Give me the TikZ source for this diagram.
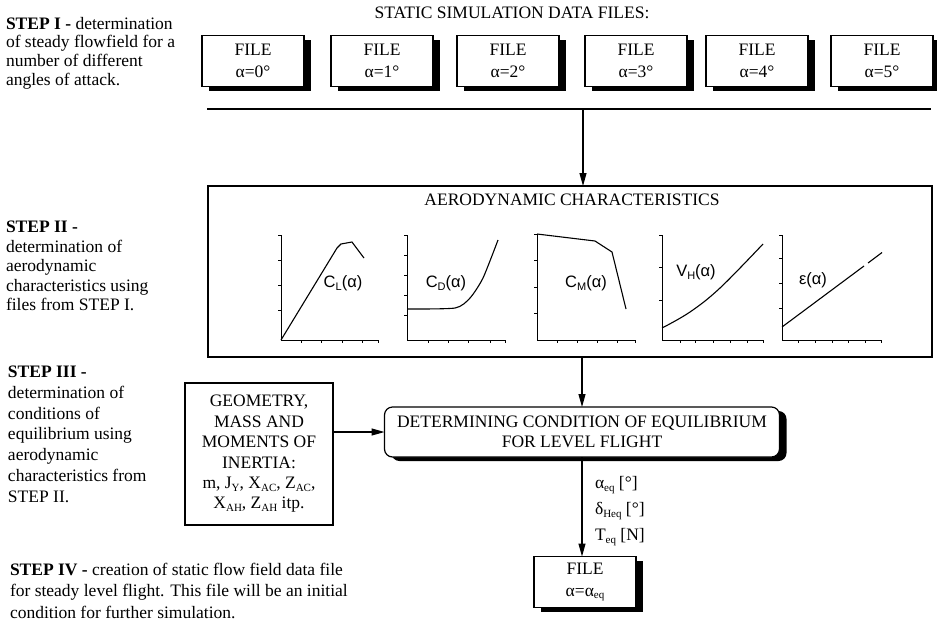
\documentclass[tikz,border=0pt]{standalone}
\usepackage{fontspec}
\setmainfont{Liberation Serif}
\newfontfamily\chartfont{Liberation Sans}
\usetikzlibrary{arrows.meta,shadows}
\newcommand\mysub[1]{\raisebox{-0.35ex}{\fontsize{11}{11}\selectfont #1}}
\begin{document}
\begin{tikzpicture}[x=1pt,y=-1pt,
  every node/.style={inner sep=0pt, outer sep=0pt},
  txt/.style={align=left, anchor=north west},
  shad/.style={drop shadow={shadow xshift=7pt, shadow yshift=-4pt, fill=black, opacity=1}},
  filebox/.style={draw, line width=1.2pt, fill=white, minimum width=102pt, minimum height=51pt,
     align=center, font=\fontsize{17.5}{22}\selectfont, shad},
  conn/.style={line width=1.1pt},
  arr/.style={conn, -{Triangle[length=13pt,width=7pt]}},
  axisline/.style={line width=0.9pt},
  curve/.style={line width=1.1pt},
  lbl/.style={font=\chartfont\fontsize{16.5}{17}\selectfont}
]
\path[use as bounding box] (0,0) rectangle (937,625);
\begin{scope}
\clip (0,0) rectangle (937,625);

% step texts
\node[txt, font=\fontsize{17.5}{18.8}\selectfont] (s1) at (6,17)
  {\textbf{STEP I -} determination\\of steady flowfield for a\\number of different\\angles of attack.};
\node[txt, font=\fontsize{17.5}{19.5}\selectfont] (s2) at (6,221)
  {\textbf{STEP II -}\\determination of\\aerodynamic\\characteristics using\\files from STEP I.};
\node[txt, font=\fontsize{17.5}{20.8}\selectfont] (s3) at (8,366)
  {\textbf{STEP III -}\\determination of\\conditions of\\equilibrium using\\aerodynamic\\characteristics from\\STEP II.};
\node[txt, font=\fontsize{17.5}{21.5}\selectfont] (s4) at (10,563)
  {\textbf{STEP IV -} creation of static flow field data file\\for steady level flight. This file will be an initial\\condition for further simulation.};

% title and files
\node[font=\fontsize{17.5}{20}\selectfont] (title) at (512,13) {STATIC SIMULATION DATA FILES:};
\node[filebox] (f0) at (253,61) {FILE\\α=0°};
\node[filebox] (f1) at (382,61) {FILE\\α=1°};
\node[filebox] (f2) at (508,61) {FILE\\α=2°};
\node[filebox] (f3) at (636,61) {FILE\\α=3°};
\node[filebox] (f4) at (757,61) {FILE\\α=4°};
\node[filebox] (f5) at (882,61) {FILE\\α=5°};

\coordinate (hl) at (207,109);
\coordinate (hr) at (931,109);
\coordinate (hj) at (583,109);
\draw[conn] (hl) -- (hr);

% aerodynamic box
\node[draw, line width=1.2pt, minimum width=724pt, minimum height=171pt] (aero) at (570,271.5) {};
\node[font=\fontsize{17.5}{20}\selectfont] (aerot) at (572,200) {AERODYNAMIC CHARACTERISTICS};
\draw[arr] (hj) -- (hj |- aero.north);

% chart 1 CL
\draw[axisline] (281,235) -- (281,340) -- (378,340);
\foreach \t in {235,260,285,310} \draw[axisline] (281,\t) -- ++(-3,0);
\foreach \t in {301,321,342,362,378} \draw[axisline] (\t,340) -- ++(0,3);
\draw[curve] (281,340) -- (337,248) -- (341,244) -- (352,242) -- (364,258);
\node[lbl] (lcl) at (343,283) {C\mysub{L}(α)};

% chart 2 CD
\draw[axisline] (407,235) -- (407,340) -- (505,340);
\foreach \t in {235,255,275,295,315} \draw[axisline] (407,\t) -- ++(-3,0);
\foreach \t in {428,448,468,490,505} \draw[axisline] (\t,340) -- ++(0,3);
\draw[curve] plot[smooth, tension=0.4] coordinates {(407,309) (455,308) (470,298) (483,278) (498,240)};
\node[lbl] (lcd) at (446,283) {C\mysub{D}(α)};

% chart 3 CM
\draw[axisline] (537,234) -- (537,340) -- (635,340);
\foreach \t in {234,260,287,313} \draw[axisline] (537,\t) -- ++(-3,0);
\foreach \t in {557,577,597,617,635} \draw[axisline] (\t,340) -- ++(0,3);
\draw[curve] (537,234) -- (595,241) -- (612,252) -- (626,309);
\node[lbl] (lcm) at (586,283) {C\mysub{M}(α)};

% chart 4 VH
\draw[axisline] (662,235) -- (662,340) -- (763,340);
\foreach \t in {235,267,300} \draw[axisline] (662,\t) -- ++(-3,0);
\foreach \t in {680,695,713,730,747,763} \draw[axisline] (\t,340) -- ++(0,3);
\draw[curve] plot[smooth, tension=0.6] coordinates {(662,328) (690,312) (720,288) (763,244)};
\node[lbl] (lvh) at (696,272) {V\mysub{H}(α)};

% chart 5 eps
\draw[axisline] (782,235) -- (782,340) -- (881,340);
\foreach \t in {235,258,283,308} \draw[axisline] (782,\t) -- ++(-3,0);
\foreach \t in {798,815,832,848,865,881} \draw[axisline] (\t,340) -- ++(0,3);
\draw[curve] (782,327) -- (864,266);
\draw[curve] (868,263) -- (882,252.5);
\node[lbl] (leps) at (813,280) {ε(α)};

% equilibrium
\node[draw, line width=1.2pt, rounded corners=8pt, fill=white, minimum width=395pt, minimum height=50pt,
  align=center, font=\fontsize{17.5}{20}\selectfont, shad] (eq) at (582,432)
  {DETERMINING CONDITION OF EQUILIBRIUM\\FOR LEVEL FLIGHT};
\draw[arr] (aero.south -| eq.north) -- (eq.north);

\node[draw, line width=1.2pt, minimum width=148pt, minimum height=142pt, align=center,
  font=\fontsize{17.5}{20.4}\selectfont] (geo) at (259,454)
  {GEOMETRY,\\MASS AND\\MOMENTS OF\\INERTIA:\\m, J\mysub{Y}, X\mysub{AC}, Z\mysub{AC},\\X\mysub{AH}, Z\mysub{AH} itp.};
\draw[arr] (geo.east |- eq.west) -- (eq.west);

\node[filebox] (fe) at (585,582) {FILE\\α=α\mysub{eq}};
\draw[arr] (eq.south) -- (eq.south |- fe.north);

\node[anchor=west, font=\fontsize{17.5}{20}\selectfont] (la) at (595,485) {α\mysub{eq} [°]};
\node[anchor=west, font=\fontsize{17.5}{20}\selectfont] (ld) at (595,511) {δ\mysub{Heq} [°]};
\node[anchor=west, font=\fontsize{17.5}{20}\selectfont] (lt) at (595,537) {T\mysub{eq} [N]};
\end{scope}
\end{tikzpicture}
\end{document}
